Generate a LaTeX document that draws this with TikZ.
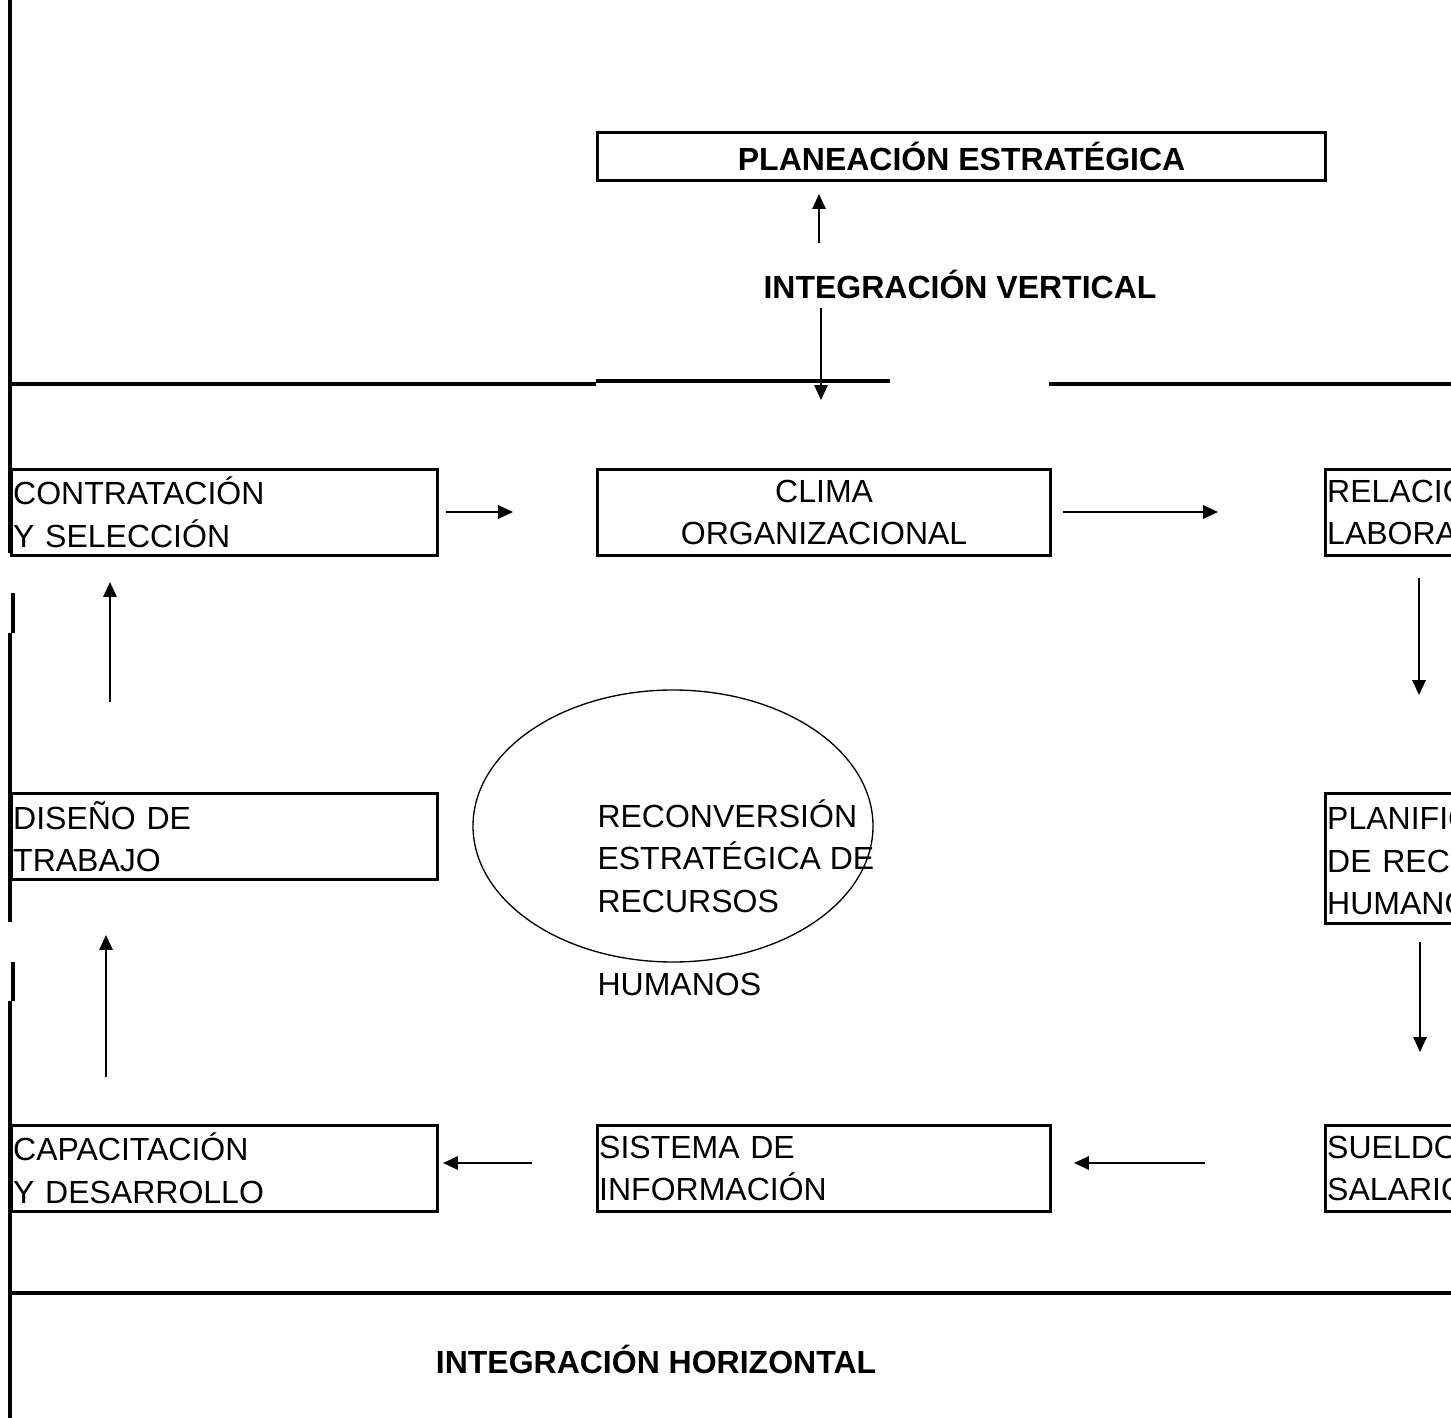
\documentclass[tikz,border=0pt]{standalone}
\usepackage{fontspec}
\setmainfont{Liberation Sans}
\usetikzlibrary{shapes, arrows.meta}

\begin{document}
\begin{tikzpicture}[x=0.375pt, y=-0.375pt,
	txt/.style={font=\fontsize{12}{16}\selectfont},
	box/.style={txt, draw, line width=1.2pt, inner xsep=0.6pt, inner ysep=0pt, minimum height=32.25pt, anchor=north west},
	lbox/.style={box, minimum width=159.75pt, text width=158.55pt, align=left},
	cbox/.style={box, minimum width=169.875pt, text width=168.675pt, align=center},
	mbox/.style={box, minimum width=169.875pt, text width=168.675pt, align=left},
	flecha/.style={line width=0.75pt, -{Triangle[length=5.6pt, width=5pt]}},
	linea/.style={line width=1.25pt}]
	\clip (0,0) rectangle (1451,1418);

	% marco
	\draw[linea] (10,0) -- (10,553);
	\draw[linea] (13,593) -- (13,633);
	\draw[linea] (10,633) -- (10,922);
	\draw[linea] (13,962) -- (13,1001);
	\draw[linea] (10,1001) -- (10,1418);
	\draw[linea] (10,384) -- (596,384);
	\draw[linea] (596,381) -- (890,381);
	\draw[linea] (1049,384) -- (1451,384);
	\draw[linea] (10,1293) -- (1451,1293);

	% cajas
	\node[box, minimum width=273pt, minimum height=18pt, font=\fontsize{12}{16}\selectfont\bfseries] (planeacion) at (596,131) {PLANEACIÓN ESTRATÉGICA};
	\node[txt, font=\fontsize{12}{16}\selectfont\bfseries] (intvert) at (960,284) {INTEGRACIÓN VERTICAL};
	\node[lbox] (contratacion) at (10,468) {CONTRATACIÓN\\Y SELECCIÓN};
	\node[cbox] (clima) at (596,468) {CLIMA\\ORGANIZACIONAL};
	\node[lbox] (relaciones) at (1324,468) {RELACIONES\\LABORALES};
	\node[lbox] (diseno) at (10,792) {DISEÑO DE\\TRABAJO};
	\node[lbox, minimum height=48.75pt] (planificacion) at (1324,792) {PLANIFICACIÓN\\DE RECURSOS\\HUMANOS};
	\node[lbox] (capacitacion) at (10,1124) {CAPACITACIÓN\\Y DESARROLLO};
	\node[mbox] (sistema) at (596,1124) {SISTEMA DE\\INFORMACIÓN};
	\node[lbox] (sueldos) at (1324,1124) {SUELDOS Y\\SALARIOS};

	\node[draw, ellipse, line width=0.5pt, minimum width=150pt, minimum height=102pt, inner sep=0pt] (elipse) at (673,826) {};
	\node[txt, anchor=north west, inner sep=0pt, align=left] (reconversion) at (597,799) {RECONVERSIÓN\\ESTRATÉGICA DE\\RECURSOS\\[15pt]HUMANOS};
	\node[txt, font=\fontsize{12}{16}\selectfont\bfseries] (inthor) at (656,1359) {INTEGRACIÓN HORIZONTAL};

	% flechas
	\coordinate (v1) at (819,243); \coordinate (v2) at (819,194);
	\coordinate (v3) at (821,308); \coordinate (v4) at (821,400);
	\coordinate (h1) at (446,512); \coordinate (h2) at (513,512);
	\coordinate (h3) at (1063,512); \coordinate (h4) at (1218,512);
	\coordinate (d1) at (1419,578); \coordinate (d2) at (1419,695);
	\coordinate (d3) at (1420,942); \coordinate (d4) at (1420,1052);
	\coordinate (u1) at (110,702); \coordinate (u2) at (110,582);
	\coordinate (u3) at (106,1077); \coordinate (u4) at (106,935);
	\coordinate (l1) at (532,1163); \coordinate (l2) at (443,1163);
	\coordinate (l3) at (1205,1163); \coordinate (l4) at (1074,1163);
	\draw[flecha] (v1) -- (v2);
	\draw[flecha] (v3) -- (v4);
	\draw[flecha] (h1) -- (h2);
	\draw[flecha] (h3) -- (h4);
	\draw[flecha] (d1) -- (d2);
	\draw[flecha] (d3) -- (d4);
	\draw[flecha] (u1) -- (u2);
	\draw[flecha] (u3) -- (u4);
	\draw[flecha] (l1) -- (l2);
	\draw[flecha] (l3) -- (l4);
\end{tikzpicture}
\end{document}
